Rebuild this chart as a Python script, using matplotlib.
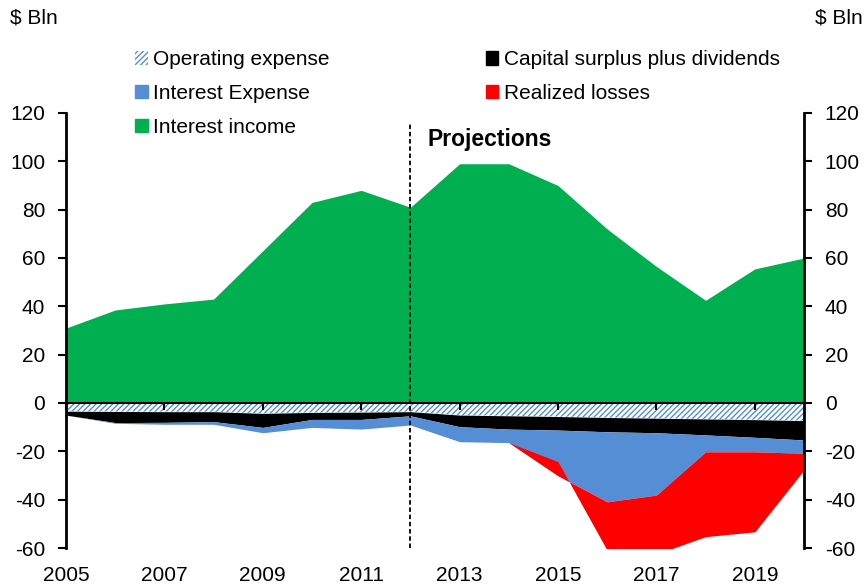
import matplotlib.pyplot as plt
from matplotlib.patches import Patch
import numpy as np

plt.rcParams['font.family'] = ['Liberation Sans', 'DejaVu Sans']
plt.rcParams['hatch.linewidth'] = 1.0
plt.rcParams['axes.unicode_minus'] = False

years = np.arange(2005, 2021)

# $ Bln
interest_income = [31, 38.5, 41, 43, 63, 83, 88, 81, 99, 99, 90, 72, 56.5, 42.5, 55.5, 60]
operating_expense = [-3.4, -3.5, -3.6, -3.6, -4.3, -3.9, -3.8, -3.6, -5.0, -5.3, -5.6, -6.0, -6.3, -6.6, -6.9, -7.3]
capital_surplus = [-1.6, -4.6, -4.4, -4.1, -5.8, -2.9, -3.0, -1.7, -4.8, -5.5, -5.6, -5.9, -6.0, -6.6, -7.3, -8.0]
interest_expense = [0, -0.3, -0.8, -1.1, -2.2, -3.3, -4.0, -3.8, -6.2, -5.6, -18.9, -29.0, -25.8, -7.0, -6.0, -5.5]
realized_losses = [0, 0, 0, 0, 0, 0, 0, 0, 0, 0, 5.8, -20.1, -24.4, -35.1, -33.1, -6.9]

xticks = [2005, 2007, 2009, 2011, 2013, 2015, 2017, 2019]
yticks = [-60, -40, -20, 0, 20, 40, 60, 80, 100, 120]

green = '#00B050'
blue = '#558ED5'
red = '#FF0000'

fig = plt.figure(figsize=(8.66, 5.87), dpi=100)
ax = fig.add_axes([66/866, 1-548/587, (804-66)/866, (548-113)/587])

ax.fill_between(years, 0, interest_income, color=green, lw=0)

c1 = np.array(operating_expense)
c2 = c1 + np.array(capital_surplus)
c3 = c2 + np.array(interest_expense)
c4 = c3 + np.array(realized_losses)

ax.fill_between(years, 0, c1, facecolor='white', edgecolor=blue, hatch='//////', lw=0)
ax.fill_between(years, c1, c2, color='black', lw=0)
ax.fill_between(years, c2, c3, color=blue, lw=0)
ax.fill_between(years, c3, c4, color=red, lw=0)

ax.plot([2012, 2012], [-60, 116], color='black', ls=(0, (2.5, 1.5)), lw=1.3, clip_on=False)
ax.text(2012.34, 109, 'Projections', fontsize=16.5, fontweight='bold', va='center')

ax.set_xlim(2005, 2020)
ax.set_ylim(-60, 120)
ax.set_yticks(yticks)
ax.set_xticks(xticks)

for s in ['left', 'right']:
    ax.spines[s].set_linewidth(2)
ax.spines['top'].set_visible(False)
ax.spines['bottom'].set_position(('data', 0))
ax.spines['bottom'].set_linewidth(1.5)
ax.spines['bottom'].set_zorder(3)

ax.tick_params(axis='y', which='both', direction='out', length=6, width=1.5,
               labelsize=15, left=True, right=True, labelleft=True, labelright=True, pad=9)
ax.tick_params(axis='x', direction='out', length=5, width=1.5, labelbottom=False)

sec = ax.secondary_xaxis('bottom')
sec.set_xticks(xticks)
sec.spines['bottom'].set_visible(False)
sec.tick_params(length=0, labelsize=15, pad=13)

fig.text(10/866, 1-18/587, '$ Bln', fontsize=15, va='center')
fig.text(815/866, 1-18/587, '$ Bln', fontsize=15, va='center')

handles = [
    Patch(facecolor='white', edgecolor=blue, hatch='//////', lw=0, label='Operating expense'),
    Patch(color=blue, label='Interest Expense'),
    Patch(color=green, label='Interest income'),
    Patch(color='black', label='Capital surplus plus dividends'),
    Patch(color=red, label='Realized losses'),
]
fig.legend(handles=handles, ncol=2, loc='upper left', bbox_to_anchor=(125/866, 1-40/587),
           frameon=False, fontsize=15, handlelength=0.6, handleheight=0.6,
           handletextpad=0.25, columnspacing=7.5, labelspacing=0.7, borderpad=0)

fig.savefig('out.png', dpi=100)
